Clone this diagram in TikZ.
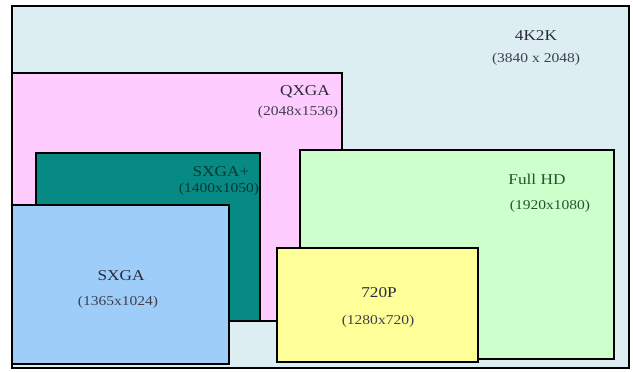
\documentclass[tikz,border=0pt]{standalone}
\usepackage{fontspec}
\newfontfamily\resfont[FakeStretch=1.15]{Liberation Serif}
\definecolor{bgkk}{HTML}{DCEEF1}
\definecolor{pinkqx}{HTML}{FFCCFF}
\definecolor{tealsx}{HTML}{088A84}
\definecolor{bluesx}{HTML}{9ECDF9}
\definecolor{greenhd}{HTML}{CCFFCC}
\definecolor{yellowp}{HTML}{FFFF99}
\definecolor{ink}{HTML}{2A2A3A}

\begin{document}
\begin{tikzpicture}[x=1pt,y=-1pt,
  box/.style={draw=black,line width=2.6pt,line join=miter},
  resname/.style={font=\resfont\fontsize{15}{17}\selectfont,text=ink,inner sep=0pt},
  ressize/.style={font=\resfont\fontsize{13.5}{15}\selectfont,text=ink!90,inner sep=0pt}]
  \useasboundingbox[fill=white] (0,0) rectangle (633,372);
  % 4K2K
  \draw[box,fill=bgkk] (12,6) rectangle (629,368);
  \node[resname] (kk) at (536,36) {4K2K};
  \node[ressize] (kksize) at (536,59) {(3840 x 2048)};
  % QXGA
  \draw[box,fill=pinkqx] (12,73) rectangle (342,321);
  \node[resname] (qx) at (305,92) {QXGA};
  \node[ressize] (qxsize) at (298,112) {(2048x1536)};
  % SXGA+
  \draw[box,fill=tealsx] (36,153) rectangle (260,321);
  \node[resname,text=tealsx!40!black] (sxp) at (221,172) {SXGA+};
  \node[ressize,text=tealsx!40!black] (sxpsize) at (219,189) {(1400x1050)};
  % SXGA
  \draw[box,fill=bluesx] (12,205) rectangle (229,364);
  \node[resname] (sx) at (121,276) {SXGA};
  \node[ressize] (sxsize) at (118,302) {(1365x1024)};
  % Full HD
  \draw[box,fill=greenhd] (300,150) rectangle (614,359);
  \node[resname,text=green!20!ink] (fhd) at (537,179) {Full HD};
  \node[ressize,text=green!20!ink] (fhdsize) at (550,206) {(1920x1080)};
  % 720P
  \draw[box,fill=yellowp] (277,248) rectangle (478,362);
  \node[resname] (hd) at (379,293) {720P};
  \node[ressize] (hdsize) at (378,321) {(1280x720)};
\end{tikzpicture}
\end{document}
